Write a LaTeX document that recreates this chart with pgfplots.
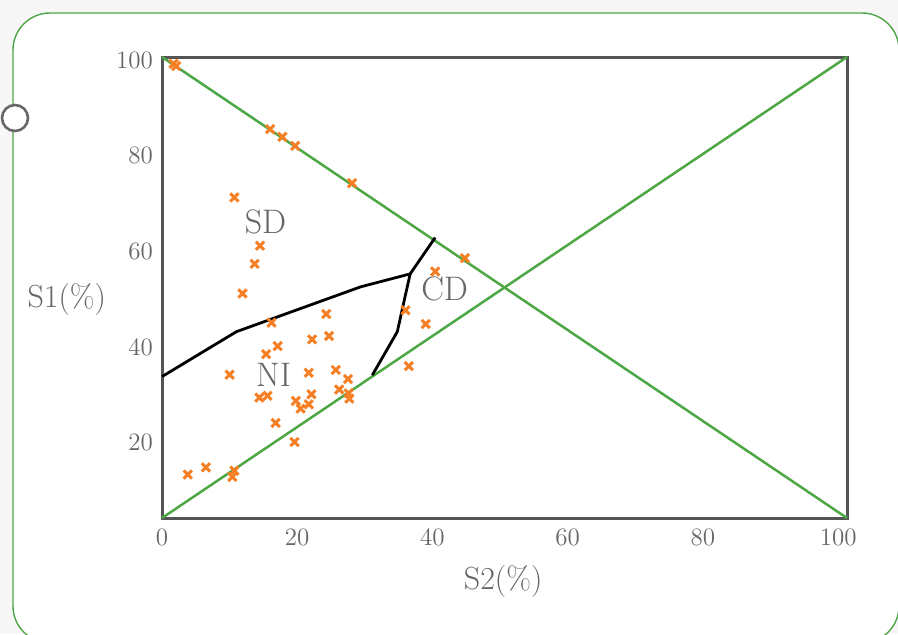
\documentclass[border=0pt]{standalone}
\usepackage{pgfplots}
\pgfplotsset{compat=1.18}
\definecolor{lgreen}{RGB}{77,167,68}
\definecolor{xorange}{RGB}{245,127,36}
\definecolor{boxgray}{RGB}{85,85,85}
\definecolor{txtgray}{RGB}{102,102,102}
\begin{document}
\begin{tikzpicture}
% page frame (1px = 0.5pt)
\useasboundingbox (-81pt,-58pt) rectangle (368pt,259pt);
\clip (-81pt,-58pt) rectangle (368pt,259pt);
\fill[black!3] (-81pt,-58pt) rectangle (368pt,259pt);
\draw[lgreen, line width=0.7pt, fill=white, rounded corners=18.5pt]
  (-74.5pt,-62.5pt) rectangle (368.5pt,252.5pt);
\draw[txtgray, line width=1.3pt, fill=white] (-73.5pt,200pt) circle (6.5pt);

\begin{axis}[
  at={(0,0)}, anchor=south west,
  scale only axis, width=342.5pt, height=230.5pt,
  xmin=0, xmax=101.3, ymin=4.2, ymax=100.7,
  xtick={0,20,40,60,80,100}, ytick={20,40,60,80,100},
  major tick length=0pt,
  axis line style={boxgray, line width=1.5pt},
  /pgf/number format/assume math mode=true,
  tick label style={txtgray, font=\fontsize{12.5}{15}\selectfont},
  xticklabel style={yshift=-2pt},
  yticklabel style={xshift=-1pt},
  xlabel={S2(\%)}, ylabel={S1(\%)},
  label style={txtgray, font=\fontsize{16}{19}\selectfont},
  xlabel style={at={(axis description cs:0.498,-0.137)}, anchor=center},
  ylabel style={at={(axis description cs:-0.139,0.473)}, anchor=center, rotate=-90},
  clip=false,
]
% diagonals
\addplot[lgreen, line width=1.25pt] coordinates {(0,4.2) (101.3,100.7)};
\addplot[lgreen, line width=1.25pt] coordinates {(0,100.7) (101.3,4.2)};
% boundaries
\addplot[black, line width=1.4pt] coordinates {
  (0,33.8) (11.0,43.2) (29.4,52.6) (36.7,55.3) (40.4,62.9)};
\addplot[black, line width=1.4pt] coordinates {
  (36.7,55.3) (36.0,50.9) (34.8,43.2) (31.1,34.1)};
% samples
\addplot[only marks, mark=x, mark size=2.9pt, xorange, line width=1.5pt] table {
x y
1.7 99.3
2.1 98.8
16.0 85.6
17.8 84.0
19.7 82.1
28.1 74.3
10.7 71.3
14.5 61.2
13.7 57.4
11.9 51.2
16.2 45.1
24.3 46.9
24.7 42.3
22.2 41.6
17.1 40.2
15.4 38.5
10.0 34.2
21.7 34.6
25.7 35.2
27.5 33.3
26.2 31.1
14.4 29.4
15.6 29.8
22.1 30.1
19.8 28.7
20.5 27.1
21.7 28.0
27.6 30.3
27.7 29.2
16.8 24.1
19.6 20.1
3.8 13.3
6.5 14.8
10.7 14.1
10.4 12.8
44.8 58.6
40.4 55.8
36.0 47.7
39.0 44.8
36.5 36.0
};
\node[txtgray, font=\fontsize{17}{20}\selectfont] at (axis cs:15.3,66.2) {SD};
\node[txtgray, font=\fontsize{17}{20}\selectfont] at (axis cs:16.5,34.1) {NI};
\node[txtgray, font=\fontsize{17}{20}\selectfont] at (axis cs:41.8,52.1) {CD};
\end{axis}
\end{tikzpicture}
\end{document}
